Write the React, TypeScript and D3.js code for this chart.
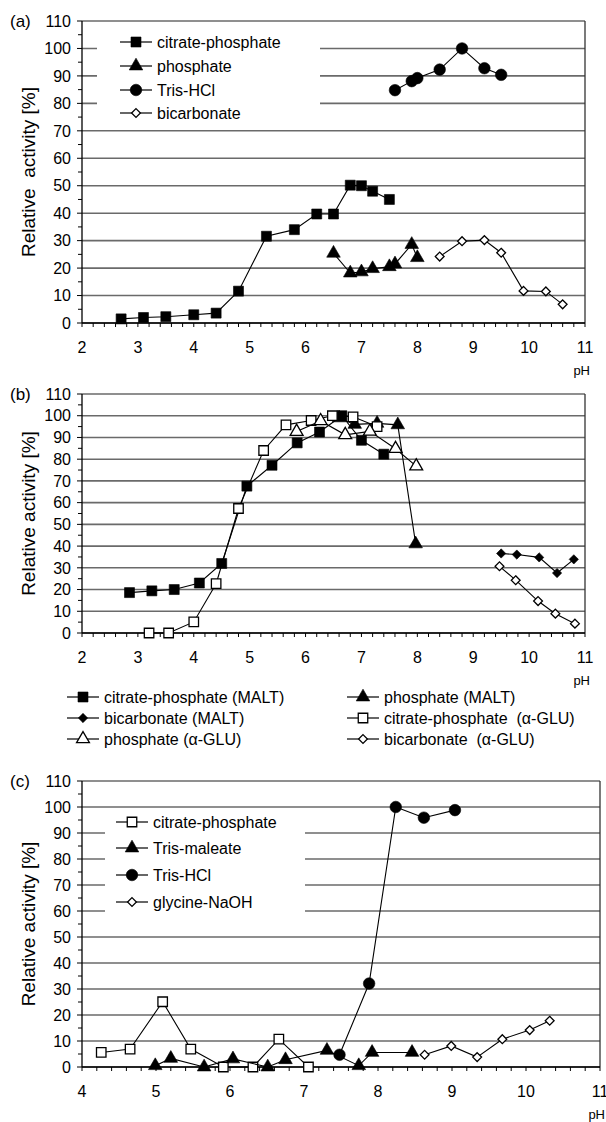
import React from "react";
import * as d3 from "d3";

// ---- panel (a) ----
const aCitPh = [2.7, 3.1, 3.5, 4.0, 4.4, 4.8, 5.3, 5.8, 6.2, 6.5, 6.8, 7.0, 7.2, 7.5];
const aCitVal = [1.5, 2.0, 2.3, 3.0, 3.6, 11.6, 31.6, 34.0, 39.7, 39.7, 50.2, 50.0, 48.0, 45.0];
const aPhosPh = [6.5, 6.8, 7.0, 7.2, 7.5, 7.6, 7.9, 8.0];
const aPhosVal = [25.4, 18.2, 18.6, 19.8, 20.5, 21.5, 28.6, 23.8];
const aTrisPh = [7.6, 7.9, 8.0, 8.4, 8.8, 9.2, 9.5];
const aTrisVal = [84.8, 88.1, 89.2, 92.3, 100, 92.8, 90.4];
const aBicPh = [8.4, 8.8, 9.2, 9.5, 9.9, 10.3, 10.6];
const aBicVal = [24.2, 29.8, 30.2, 25.6, 11.7, 11.5, 6.8];

// ---- panel (b) ----
const bCitMPh = [2.85, 3.25, 3.65, 4.1, 4.5, 4.95, 5.4, 5.85, 6.25, 6.65, 7.0, 7.4];
const bCitMVal = [18.6, 19.4, 20.0, 23.0, 32.0, 67.6, 77.2, 87.5, 92.5, 100, 88.7, 82.3];
const bPhosMPh = [6.6, 6.88, 7.28, 7.65, 7.97];
const bPhosMVal = [99, 96, 96.5, 95.8, 41];
const bBicMPh = [9.5, 9.78, 10.18, 10.5, 10.8];
const bBicMVal = [36.6, 36.1, 34.8, 27.6, 33.9];
const bCitGPh = [3.2, 3.55, 4.0, 4.4, 4.8, 5.25, 5.65, 6.1, 6.48, 6.85, 7.28];
const bCitGVal = [0, 0, 5.1, 22.7, 57.3, 84, 95.8, 97.8, 100, 99.5, 95];
const bPhosGPh = [5.84, 6.27, 6.71, 7.15, 7.61, 7.98];
const bPhosGVal = [92.7, 97.6, 91.2, 92.8, 84.8, 76.8];
const bBicGPh = [9.47, 9.76, 10.16, 10.47, 10.82];
const bBicGVal = [30.7, 24.3, 14.7, 8.9, 4.3];

// ---- panel (c) ----
const cCitPh = [4.26, 4.65, 5.09, 5.47, 5.91, 6.31, 6.66, 7.06];
const cCitVal = [5.6, 6.9, 25.1, 6.9, 0, 0, 10.7, 0];
const cTMPh = [4.99, 5.2, 5.65, 6.04, 6.51, 6.75, 7.31, 7.74, 7.92, 8.46];
const cTMVal = [0.5, 3.3, 0, 3.1, 0, 2.8, 6.4, 0.5, 5.6, 5.6];
const cTrisPh = [7.48, 7.88, 8.24, 8.62, 9.04];
const cTrisVal = [4.7, 32.1, 100, 95.9, 98.8];
const cGlyPh = [8.63, 8.99, 9.34, 9.68, 10.05, 10.32];
const cGlyVal = [4.7, 8.1, 3.8, 10.7, 14.2, 17.8];

const yTicks = d3.range(0, 111, 10);
const FONT = "'Liberation Sans', Arial, sans-serif";

type Kind = "sq" | "tri" | "circ" | "dia";
type Series = { name: string; ph: number[]; val: number[]; kind: Kind; filled: boolean };

const symType = { sq: d3.symbolSquare, tri: d3.symbolTriangle, circ: d3.symbolCircle, dia: d3.symbolDiamond2 };
const symSize = { sq: 100, tri: 80, circ: 105, dia: 55 };

const Marker = ({ kind, filled, x, y }: { kind: Kind; filled: boolean; x: number; y: number }) => (
  <path
    d={d3.symbol(symType[kind], filled ? symSize[kind] : symSize[kind] * 0.9)() as string}
    transform={`translate(${x},${y})`}
    fill={filled ? "#000" : "#fff"}
    stroke="#000"
    strokeWidth={filled ? 0.6 : 1.3}
  />
);

const LegendRow = ({ s, x, y, text }: { s: Series; x: number; y: number; text: string }) => (
  <g>
    <line x1={x} x2={x + 32} y1={y} y2={y} stroke="#000" strokeWidth={1.2} />
    <Marker kind={s.kind} filled={s.filled} x={x + 16} y={y} />
    <text x={x + 37} y={y} dy="0.35em" fontSize={16} style={{ whiteSpace: "pre" }}>
      {text}
    </text>
  </g>
);

type PanelProps = {
  tag: string;
  top: number;
  bottom: number;
  left: number;
  right: number;
  xMin: number;
  series: Series[];
  yLabel: string;
  box?: { x: number; y: number; w: number; h: number; rowX: number; rowY: number[] };
};

const Panel = ({ tag, top, bottom, left, right, xMin, series, yLabel, box }: PanelProps) => {
  const x = d3.scaleLinear().domain([xMin, 11]).range([left, right]);
  const y = d3.scaleLinear().domain([0, 110]).range([bottom, top]);
  const line = d3
    .line<[number, number]>()
    .x((d) => x(d[0]))
    .y((d) => y(d[1]));
  const majors = d3.range(xMin, 12, 1);
  const minors = d3.range(xMin * 5, 55 + 1).map((v) => v / 5);
  return (
    <g>
      {yTicks.map((t) => (
        <line key={t} x1={left} x2={right} y1={y(t)} y2={y(t)} stroke="#6a6a6a" strokeWidth={1.6} />
      ))}
      {box && <rect x={box.x} y={box.y} width={box.w} height={box.h} fill="#fff" />}
      <line x1={right} x2={right} y1={top} y2={bottom} stroke="#333" strokeWidth={1.3} />
      <line x1={left} x2={left} y1={top} y2={bottom} stroke="#000" strokeWidth={1.3} />
      <line x1={left} x2={right} y1={bottom} y2={bottom} stroke="#000" strokeWidth={1.3} />
      {yTicks.map((t) => (
        <line key={"yt" + t} x1={left - 5} x2={left} y1={y(t)} y2={y(t)} stroke="#000" strokeWidth={1} />
      ))}
      {yTicks.slice(0, -1).map((t) => (
        <line key={"ym" + t} x1={left - 4} x2={left} y1={y(t + 5)} y2={y(t + 5)} stroke="#000" strokeWidth={1} />
      ))}
      {minors.map((t) => (
        <line key={"xm" + t} x1={x(t)} x2={x(t)} y1={bottom} y2={bottom + 4} stroke="#000" strokeWidth={1} />
      ))}
      {yTicks.map((t) => (
        <text key={"yl" + t} x={left - 11} y={y(t)} dy="0.36em" textAnchor="end" fontSize={16}>
          {t}
        </text>
      ))}
      {majors.map((t) => (
        <text key={"xl" + t} x={x(t)} y={bottom + 24} dy="0.36em" textAnchor="middle" fontSize={16}>
          {t}
        </text>
      ))}
      <text x={right + 5} y={bottom + 47} dy="0.36em" textAnchor="end" fontSize={13}>
        pH
      </text>
      <text x={10} y={top} dy="0.36em" fontSize={17}>
        {tag}
      </text>
      <text
        transform={`translate(28,${(top + bottom) / 2}) rotate(-90)`}
        textAnchor="middle"
        dy="0.36em"
        fontSize={19}
        style={{ whiteSpace: "pre" }}
      >
        {yLabel}
      </text>
      {series.map((s) => {
        const pts = s.ph.map((p, i) => [p, s.val[i]] as [number, number]);
        return (
          <g key={s.name}>
            <path d={line(pts) as string} fill="none" stroke="#000" strokeWidth={1.1} />
            {pts.map((p, i) => (
              <Marker key={i} kind={s.kind} filled={s.filled} x={x(p[0])} y={y(p[1])} />
            ))}
          </g>
        );
      })}
      {box &&
        series.map((s, i) => <LegendRow key={"lg" + s.name} s={s} x={box.rowX} y={box.rowY[i]} text={s.name} />)}
    </g>
  );
};

const seriesA: Series[] = [
  { name: "citrate-phosphate", ph: aCitPh, val: aCitVal, kind: "sq", filled: true },
  { name: "phosphate", ph: aPhosPh, val: aPhosVal, kind: "tri", filled: true },
  { name: "Tris-HCl", ph: aTrisPh, val: aTrisVal, kind: "circ", filled: true },
  { name: "bicarbonate", ph: aBicPh, val: aBicVal, kind: "dia", filled: false },
];

const seriesB: Series[] = [
  { name: "citrate-phosphate (MALT)", ph: bCitMPh, val: bCitMVal, kind: "sq", filled: true },
  { name: "phosphate (MALT)", ph: bPhosMPh, val: bPhosMVal, kind: "tri", filled: true },
  { name: "bicarbonate (MALT)", ph: bBicMPh, val: bBicMVal, kind: "dia", filled: true },
  { name: "citrate-phosphate  (α-GLU)", ph: bCitGPh, val: bCitGVal, kind: "sq", filled: false },
  { name: "phosphate (α-GLU)", ph: bPhosGPh, val: bPhosGVal, kind: "tri", filled: false },
  { name: "bicarbonate  (α-GLU)", ph: bBicGPh, val: bBicGVal, kind: "dia", filled: false },
];

const seriesC: Series[] = [
  { name: "citrate-phosphate", ph: cCitPh, val: cCitVal, kind: "sq", filled: false },
  { name: "Tris-maleate", ph: cTMPh, val: cTMVal, kind: "tri", filled: true },
  { name: "Tris-HCl", ph: cTrisPh, val: cTrisVal, kind: "circ", filled: true },
  { name: "glycine-NaOH", ph: cGlyPh, val: cGlyVal, kind: "dia", filled: false },
];

const legendBRows = [697, 718, 739];

export default function App() {
  return (
    <svg
      width={606}
      height={1122}
      style={{ position: "absolute", left: 0, top: 0, background: "#fff" }}
      fontFamily={FONT}
    >
      <Panel
        tag="(a)"
        top={21}
        bottom={323}
        left={82}
        right={585}
        xMin={2}
        series={seriesA}
        yLabel="Relative  activity [%]"
        box={{ x: 97, y: 29, w: 223, h: 96, rowX: 120, rowY: [42, 66, 90, 113] }}
      />
      <Panel
        tag="(b)"
        top={394}
        bottom={633}
        left={82}
        right={585}
        xMin={2}
        series={seriesB}
        yLabel="Relative activity [%]"
      />
      {seriesB.map((s, i) => (
        <LegendRow
          key={"lb" + s.name}
          s={s}
          x={i % 2 === 0 ? 67 : 347}
          y={legendBRows[Math.floor(i / 2)]}
          text={s.name}
        />
      ))}
      <Panel
        tag="(c)"
        top={781}
        bottom={1067}
        left={82}
        right={600}
        xMin={4}
        series={seriesC}
        yLabel="Relative activity [%]"
        box={{ x: 105, y: 812, w: 200, h: 106, rowX: 116, rowY: [822, 848, 875, 902] }}
      />
    </svg>
  );
}
